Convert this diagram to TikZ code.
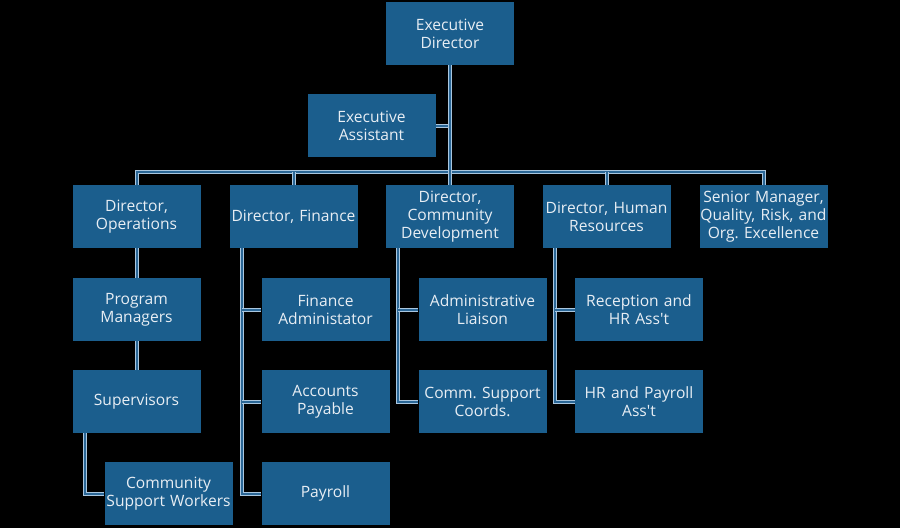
\documentclass[tikz,border=0pt]{standalone}
\usepackage{fontspec}
\setmainfont{Open Sans}
\frenchspacing
\definecolor{boxfill}{HTML}{1B5E8D}
\definecolor{txt}{HTML}{E8EEF4}
\definecolor{lnlight}{HTML}{A9C6DF}
\definecolor{lnblue}{HTML}{2B6797}
\newcommand{\apos}{\textquotesingle}
\begin{document}
\begin{tikzpicture}[x=1pt,y=-1pt,
  orgbox/.style={rectangle, fill=boxfill, text=txt, minimum width=128pt, minimum height=63pt,
    inner xsep=-3pt, inner ysep=0pt, text width=134pt, align=center, font=\fontsize{15.6}{18}\selectfont},
  conn/.style={draw=lnlight, line width=1pt, double=lnblue, double distance=2pt}]
\fill[black] (0,0) rectangle (900,528);
\useasboundingbox (0,0) rectangle (900,528);
% nodes
\node[orgbox] (ed) at (450,33.5) {Executive\\Director};
\node[orgbox] (ea) at (371.5,125.5) {Executive\\Assistant};
\node[orgbox] (ops) at (136.5,216.5) {Director,\\Operations};
\node[orgbox] (fin) at (293.5,216.5) {Director, Finance};
\node[orgbox] (cd) at (450,216.5) {Director,\\Community\\Development};
\node[orgbox] (hr) at (606.5,216.5) {Director, Human\\Resources};
\node[orgbox] (sm) at (763.5,216.5) {Senior Manager,\\Quality, Risk, and\\Org. Excellence};
\node[orgbox] (pm) at (136.5,309.5) {Program\\Managers};
\node[orgbox] (sup) at (136.5,401.5) {Supervisors};
\node[orgbox] (csw) at (168.5,493.5) {Community\\Support Workers};
\node[orgbox] (fa) at (325.5,309.5) {Finance\\Administator};
\node[orgbox] (ap) at (325.5,401.5) {Accounts\\Payable};
\node[orgbox] (pay) at (325.5,493.5) {Payroll};
\node[orgbox] (al) at (482.5,309.5) {Administrative\\Liaison};
\node[orgbox] (csc) at (482.5,401.5) {Comm. Support\\Coords.};
\node[orgbox] (rh) at (639,309.5) {Reception and\\HR Ass\apos t};
\node[orgbox] (hp) at (639,401.5) {HR and Payroll\\Ass\apos t};
\coordinate (bus) at (450,172);
% top connectors
\draw[conn] (ea.east) -- (ea.east -| ed.south);
\draw[conn] (ops.north) -- (ops.north |- bus) -- (sm.north |- bus) -- (sm.north);
\draw[conn] (fin.north) -- (fin.north |- bus);
\draw[conn] (hr.north) -- (hr.north |- bus);
\draw[conn] (ed.south) -- (cd.north);
% operations
\draw[conn] (ops.south) -- (pm.north);
\draw[conn] (pm.south) -- (sup.north);
\draw[conn] ([xshift=-51.5pt]sup.south) |- (csw.west);
% finance
\draw[conn] ([xshift=-51.5pt]fin.south) |- (pay.west);
\draw[conn] ([xshift=-51.5pt]fin.south |- fa.west) -- (fa.west);
\draw[conn] ([xshift=-51.5pt]fin.south |- ap.west) -- (ap.west);
% community development
\draw[conn] ([xshift=-52pt]cd.south) |- (csc.west);
\draw[conn] ([xshift=-52pt]cd.south |- al.west) -- (al.west);
% human resources
\draw[conn] ([xshift=-51.5pt]hr.south) |- (hp.west);
\draw[conn] ([xshift=-51.5pt]hr.south |- rh.west) -- (rh.west);
\end{tikzpicture}
\end{document}
